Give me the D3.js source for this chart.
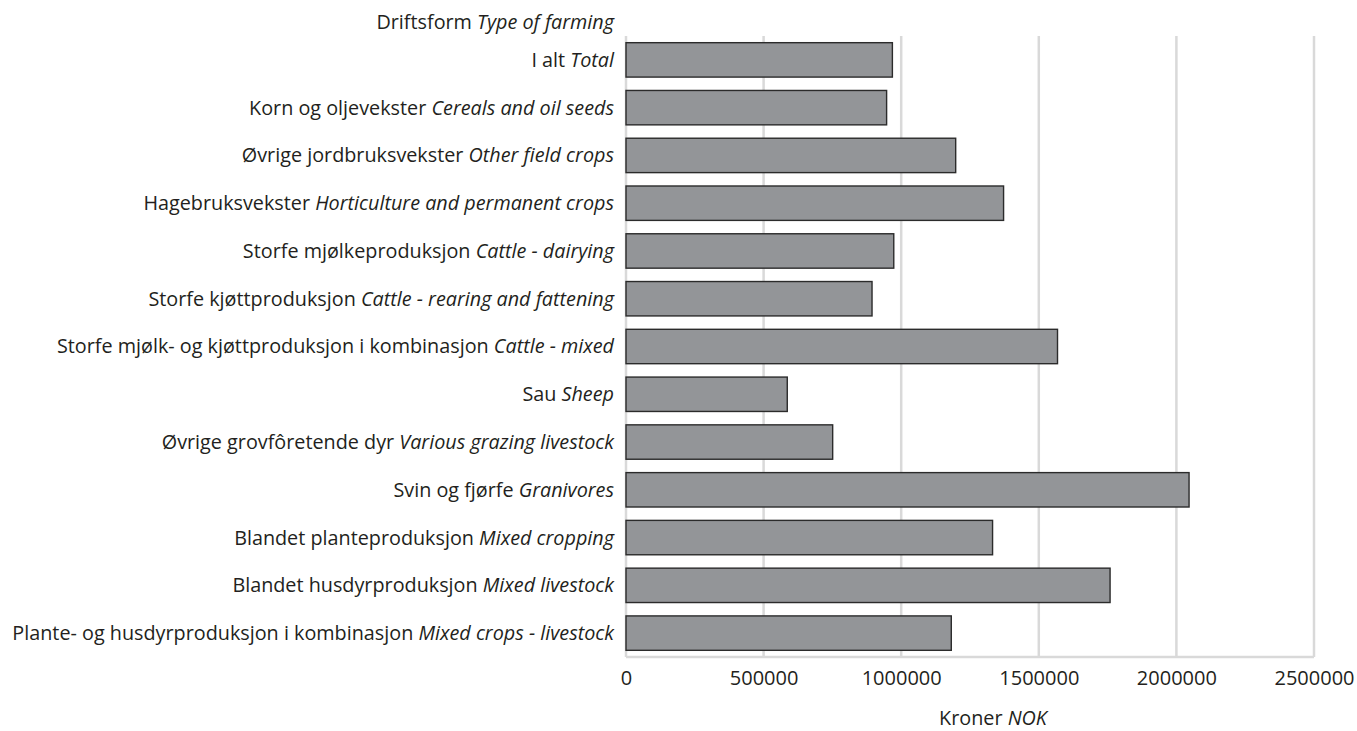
<!DOCTYPE html>
<html><head><meta charset="utf-8">
<script src="https://cdn.jsdelivr.net/npm/d3@7"></script>
<style>body{margin:0;background:#fff}svg{display:block}text{font-family:"Open Sans",sans-serif;fill:#231f20}</style>
</head><body><svg id="c" width="1357" height="731"></svg>
<script>
const categoriesNo = ["I alt","Korn og oljevekster","Øvrige jordbruksvekster","Hagebruksvekster","Storfe mjølkeproduksjon","Storfe kjøttproduksjon","Storfe mjølk- og kjøttproduksjon i kombinasjon","Sau","Øvrige grovfôretende dyr","Svin og fjørfe","Blandet planteproduksjon","Blandet husdyrproduksjon","Plante- og husdyrproduksjon i kombinasjon"];
const categoriesEn = ["Total","Cereals and oil seeds","Other field crops","Horticulture and permanent crops","Cattle - dairying","Cattle - rearing and fattening","Cattle - mixed","Sheep","Various grazing livestock","Granivores","Mixed cropping","Mixed livestock","Mixed crops - livestock"];
const values = [968000,947000,1198000,1372000,973000,894000,1568000,586000,751000,2046000,1332000,1759000,1182000];
const xTicks = [0,500000,1000000,1500000,2000000,2500000];

const svg = d3.select("#c");
const pLeft = 626, pRight = 1314, pTop = 36, pBottom = 657;
const x = d3.scaleLinear().domain([0,2500000]).range([pLeft,pRight]);
const y = d3.scaleBand().domain(d3.range(values.length)).range([pTop,pBottom]).paddingInner(0.28).paddingOuter(0.14);
const fs = 19.8;

svg.append("g").selectAll("line").data(xTicks).join("line")
  .attr("x1",d=>x(d)).attr("x2",d=>x(d)).attr("y1",pTop).attr("y2",pBottom)
  .attr("stroke","#d9d9d9").attr("stroke-width",2.5);
svg.append("line").attr("x1",pLeft).attr("x2",pRight).attr("y1",pBottom).attr("y2",pBottom)
  .attr("stroke","#d9d9d9").attr("stroke-width",2.5);

svg.append("g").selectAll("rect").data(values).join("rect")
  .attr("x",x(0)).attr("y",(d,i)=>y(i)).attr("width",d=>x(d)-x(0)).attr("height",y.bandwidth())
  .attr("fill","#939598").attr("stroke","#2b2b2b").attr("stroke-width",1.4);

const lab = svg.append("g").selectAll("text").data(values).join("text")
  .attr("x",614).attr("y",(d,i)=>y(i)+y.bandwidth()/2).attr("dy","0.35em")
  .attr("text-anchor","end").style("font-size",fs+"px");
lab.append("tspan").text((d,i)=>categoriesNo[i]+" ");
lab.append("tspan").attr("font-style","italic").text((d,i)=>categoriesEn[i]);

const xAxis = d3.axisBottom(x).tickValues(xTicks).tickFormat(d=>String(d)).tickSize(0).tickPadding(14);
const ga = svg.append("g").attr("transform",`translate(0,${pBottom})`).call(xAxis);
ga.select(".domain").remove();
ga.selectAll("text").style("font-size","20px").style("font-family","'Open Sans',sans-serif").attr("fill","#231f20");

const t1 = svg.append("text").attr("x",614).attr("y",22).attr("dy","0.35em").attr("text-anchor","end").style("font-size",fs+"px");
t1.append("tspan").text("Driftsform ");
t1.append("tspan").attr("font-style","italic").text("Type of farming");
const t2 = svg.append("text").attr("x",993).attr("y",718).attr("dy","0.35em").attr("text-anchor","middle").style("font-size",fs+"px");
t2.append("tspan").text("Kroner ");
t2.append("tspan").attr("font-style","italic").text("NOK");
</script></body></html>
